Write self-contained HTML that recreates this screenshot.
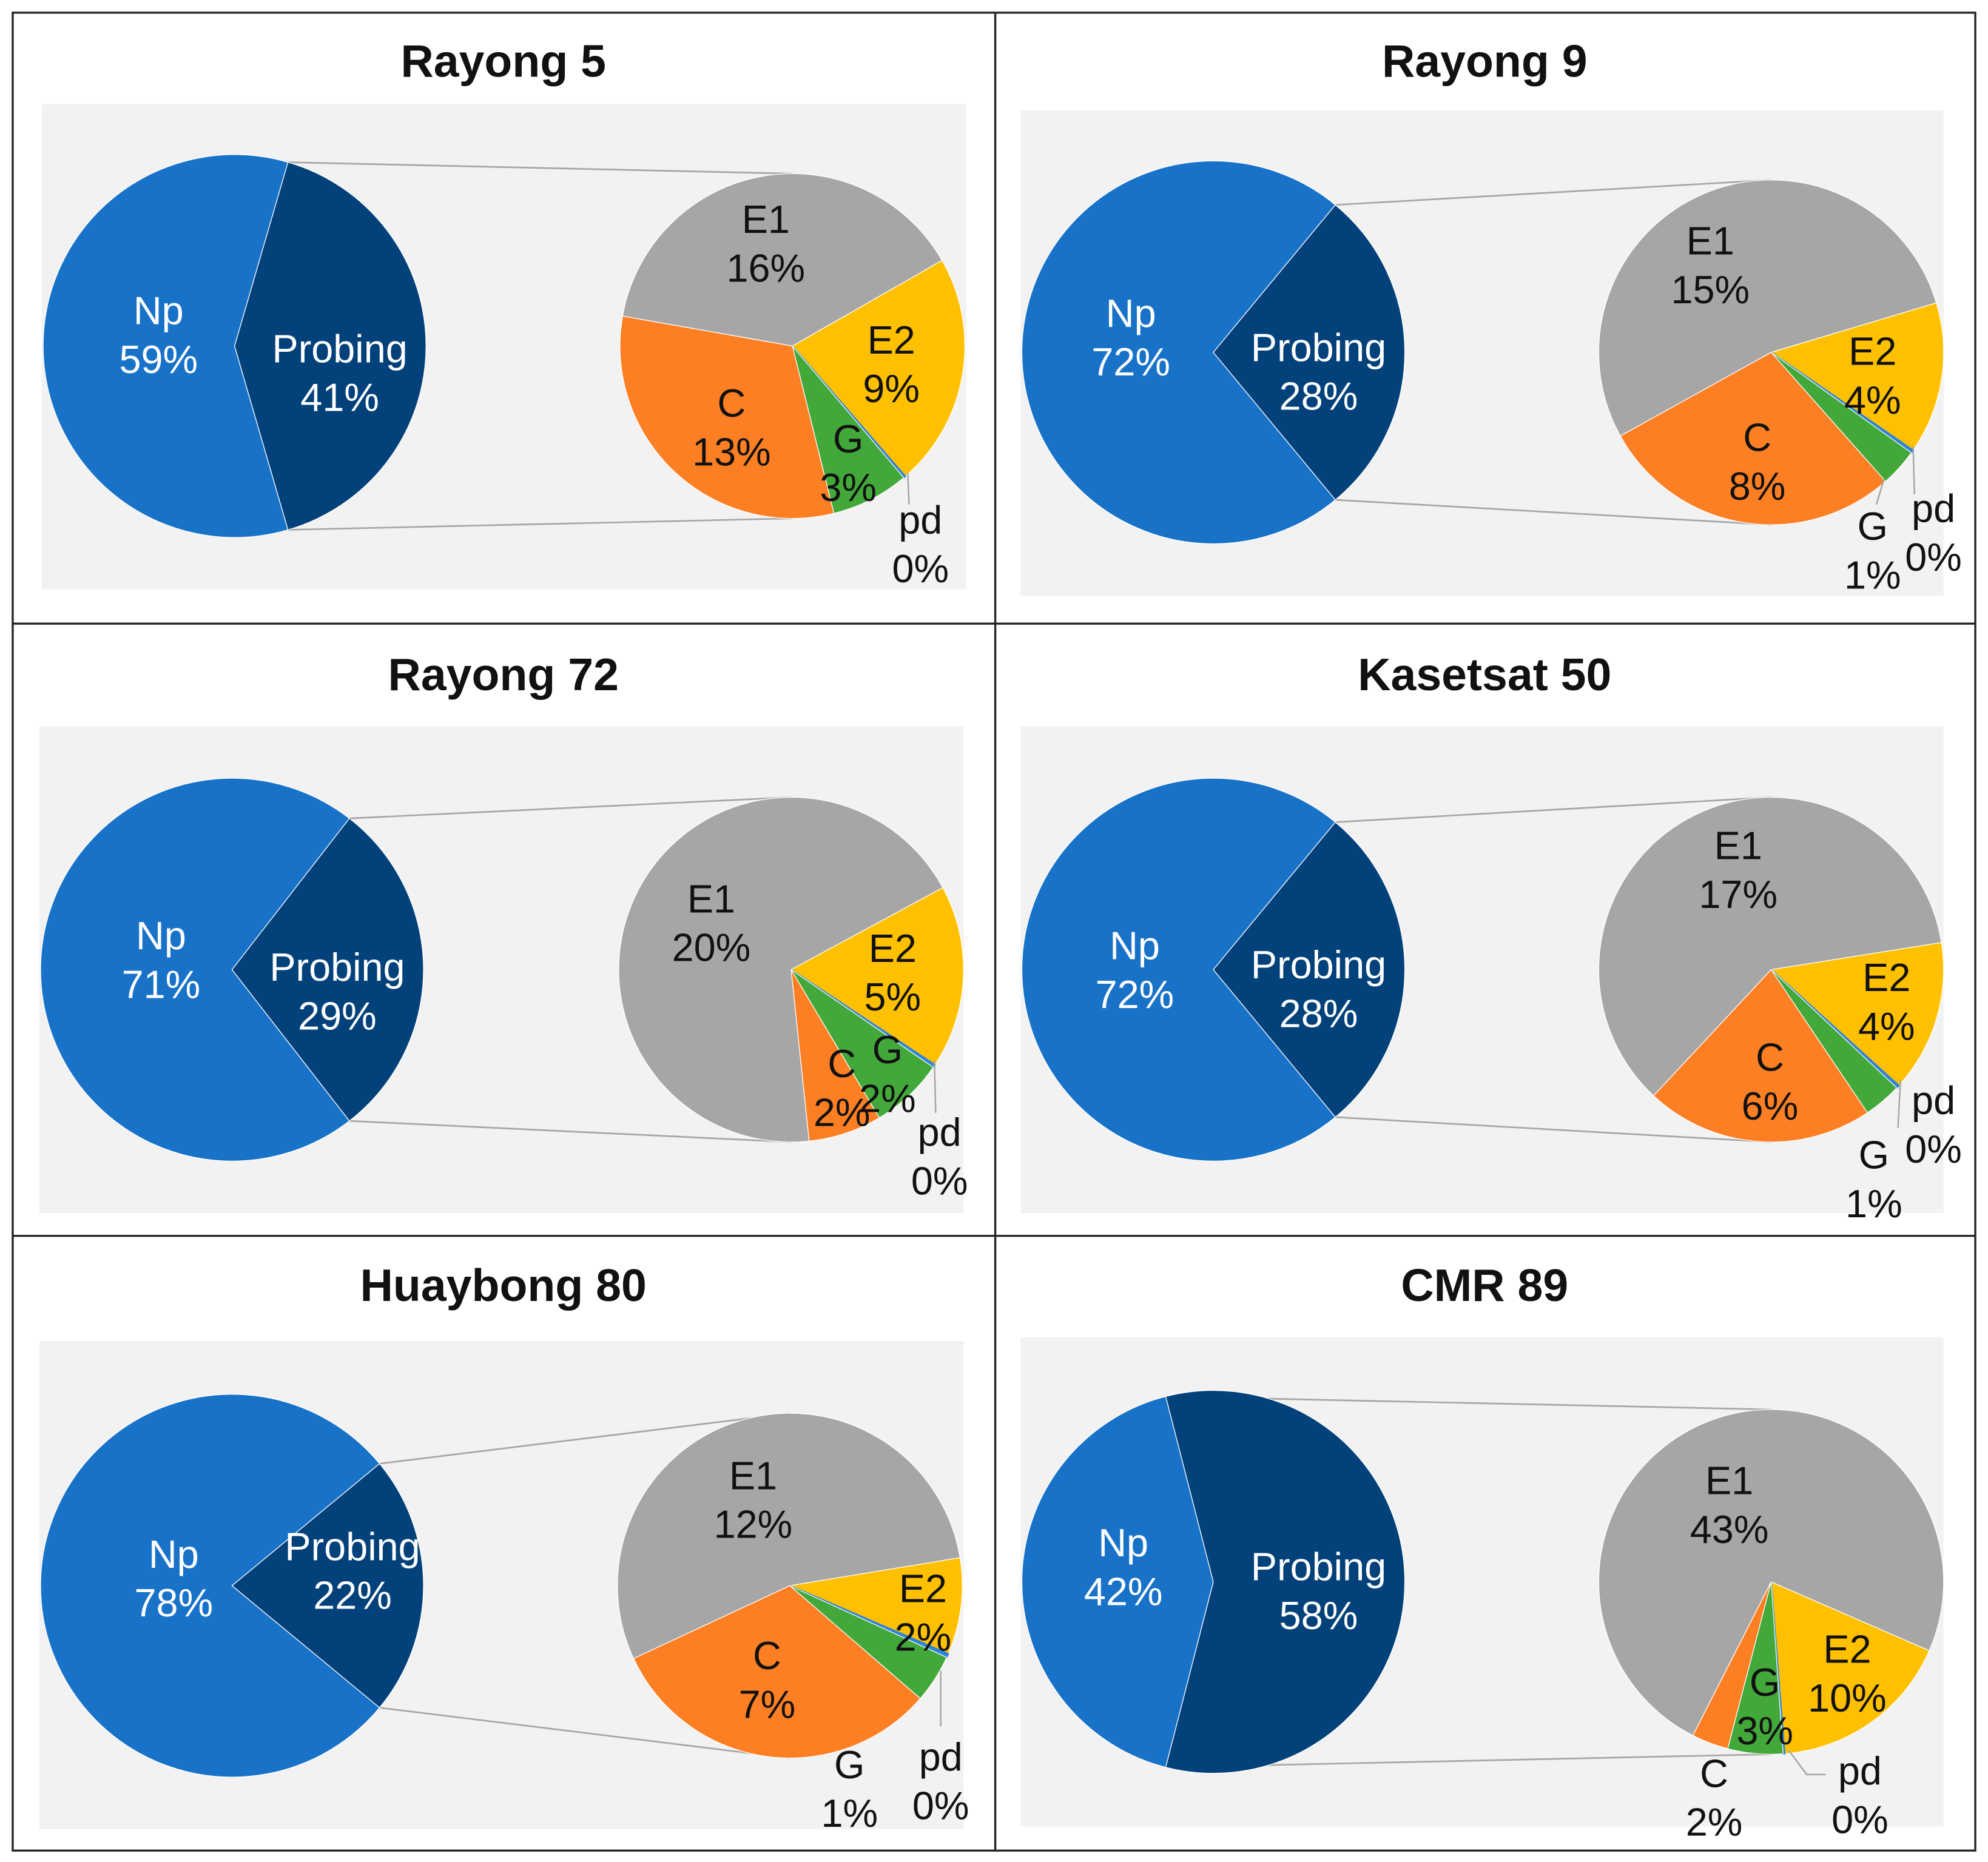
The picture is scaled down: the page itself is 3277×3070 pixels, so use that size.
<!DOCTYPE html>
<html><head><meta charset="utf-8"><style>
html,body{margin:0;padding:0;background:#fff}
svg{display:block}
text{font-family:"Liberation Sans",Arial,sans-serif}
</style></head><body>
<svg id="chart" width="3277" height="3070" viewBox="0 0 1568 1469" xmlns="http://www.w3.org/2000/svg">
<rect x="0" y="0" width="1568" height="1469" fill="#fff"/>
<g id="panels"></g>
<g stroke="#a6a6a6" stroke-width="1.2" fill="none">
<polyline points="716,373 717,398"/>
<polyline points="1509,352 1510,390"/>
<polyline points="1486,378 1480,398"/>
<polyline points="737,837 738,878"/>
<polyline points="1499,852 1497,890"/>
<polyline points="742,1318 742,1362"/>
<polyline points="1411,1381 1425,1400 1440,1400"/>
</g>
<g stroke="#222" stroke-width="1.6" fill="none">
<rect x="10" y="10" width="1548" height="1450"/>
<line x1="785" y1="10" x2="785" y2="1460"/>
<line x1="10" y1="492" x2="1558" y2="492"/>
<line x1="10" y1="975" x2="1558" y2="975"/>
</g>
</svg>
<script>
const panelTitles=["Rayong 5","Rayong 9","Rayong 72","Kasetsat 50","Huaybong 80","CMR 89"];
const npValues=[59,72,71,72,78,42];
const e1Values=[16,15,20,17,12,43];
const e2Values=[9,4,5,4,2,10];
const pdValues=[0.08,0.08,0.08,0.08,0.08,0.08];
const gValues=[3,1,2,1,1,3];
const cValues=[13,8,2,6,7,2];

// layout (not data)
const layout=[
 {tx:397,ty:48,bg:[33,82,729,383],c1:[185,273],c2:[625,273],start:190,
  lab:{Np:[125,245],Probing:[268,275],E1:[604,173],E2:[703,268],C:[577,318],G:[669,346],pd:[726,410]}},
 {tx:1171,ty:48,bg:[805,87,728,383],c1:[957,278],c2:[1397,278],start:151,
  lab:{Np:[892,247],Probing:[1040,274],E1:[1349,190],E2:[1477,277],C:[1386,345],G:[1477,415],pd:[1525,401]}},
 {tx:397,ty:532,bg:[31,573,729,384],c1:[183,765],c2:[624,765],start:84,
  lab:{Np:[127,738],Probing:[266,763],E1:[561,709],E2:[704,748],C:[664,839],G:[700,828],pd:[741,893]}},
 {tx:1171,ty:532,bg:[805,573,728,384],c1:[957,765],c2:[1397,765],start:133,
  lab:{Np:[895,746],Probing:[1040,761],E1:[1371,667],E2:[1488,771],C:[1396,834],G:[1478,911],pd:[1525,868]}},
 {tx:397,ty:1014,bg:[31,1058,729,385],c1:[183,1251],c2:[623,1251],start:155,
  lab:{Np:[137,1226],Probing:[278,1220],E1:[594,1164],E2:[728,1253],C:[605,1306],G:[670,1392],pd:[742,1386]}},
 {tx:1171,ty:1014,bg:[805,1055,728,386],c1:[957,1248],c2:[1397,1248],start:117,
  lab:{Np:[886,1217],Probing:[1040,1236],E1:[1364,1168],E2:[1457,1301],C:[1352,1399],G:[1392,1327],pd:[1467,1397]}}
];
const R1=151,R2=136;
const colors={Np:"#1872c8",Probing:"#03417a",E1:"#a6a6a6",E2:"#ffc000",pd:"#2f84d6",G:"#43a83a",C:"#fd7f24"};
const NS="http://www.w3.org/2000/svg";
const root=document.getElementById('panels');
function mk(tag,attrs,parent){const e=document.createElementNS(NS,tag);for(const k in attrs)e.setAttribute(k,attrs[k]);parent.appendChild(e);return e;}
function pt(cx,cy,r,a){const t=a*Math.PI/180;return [cx+r*Math.cos(t),cy+r*Math.sin(t)];}
function arc(cx,cy,r,a0,a1){
  const p0=pt(cx,cy,r,a0),p1=pt(cx,cy,r,a1);const large=(a1-a0)>180?1:0;
  return `M${cx},${cy}L${p0[0]},${p0[1]}A${r},${r} 0 ${large} 1 ${p1[0]},${p1[1]}Z`;
}
function label(g,name,x,y,l1,l2,fill){
  const t=mk('text',{x:x,y:y,'text-anchor':'middle','font-size':31,fill:fill},g);
  
  
  const s1=mk('tspan',{x:x,dy:'0.35em'},t);s1.textContent=l1;
  const s2=mk('tspan',{x:x,dy:'1.24em'},t);s2.textContent=l2;
}
panelTitles.forEach((title,i)=>{
  const L=layout[i];
  const g=mk('g',{},root);
  
  
  const bg=mk('rect',{x:L.bg[0],y:L.bg[1],width:L.bg[2],height:L.bg[3],fill:'#f2f2f2'},g);
  
  
  const tt=mk('text',{x:L.tx,y:L.ty,'text-anchor':'middle','dominant-baseline':'central','font-size':36,'font-weight':'bold',fill:'#111'},g);
  
  
  tt.textContent=title;
  const np=npValues[i],pr=100-np;
  const half=pr/100*180;
  const [cx,cy]=L.c1,[cx2,cy2]=L.c2;
  const top=pt(cx,cy,R1,-half),bot=pt(cx,cy,R1,half);
  const l1=mk('line',{x1:top[0],y1:top[1],x2:cx2,y2:cy2-R2,stroke:'#a6a6a6','stroke-width':1.3},g);
  
  
  const l2=mk('line',{x1:bot[0],y1:bot[1],x2:cx2,y2:cy2+R2,stroke:'#a6a6a6','stroke-width':1.3},g);
  
  
  const sNp=mk('path',{d:arc(cx,cy,R1,half,360-half),fill:colors.Np,stroke:'#fff','stroke-width':0.6},g);
  
  
  const sPr=mk('path',{d:arc(cx,cy,R1,-half,half),fill:colors.Probing,stroke:'#fff','stroke-width':0.6},g);
  
  
  const sub=[['E1',e1Values[i]],['E2',e2Values[i]],['pd',pdValues[i]],['G',gValues[i]],['C',cValues[i]]];
  const tot=sub.reduce((s,d)=>s+d[1],0);
  let a=L.start;
  sub.forEach(([k,v])=>{
    const span=v/tot*360;
    const p=mk('path',{d:arc(cx2,cy2,R2,a,a+span),fill:colors[k],stroke:k==='pd'?colors.pd:'#fff','stroke-width':k==='pd'?1.2:0.6},g);
    
    
    a+=span;
  });
  label(g,'label-np',L.lab.Np[0],L.lab.Np[1],'Np',Math.round(np)+'%','#fff');
  label(g,'label-probing',L.lab.Probing[0],L.lab.Probing[1],'Probing',Math.round(pr)+'%','#fff');
  sub.forEach(([k,v])=>{
    label(g,'label-'+k.toLowerCase(),L.lab[k][0],L.lab[k][1],k,Math.round(v)+'%','#111');
  });
});
</script>
</body></html>
